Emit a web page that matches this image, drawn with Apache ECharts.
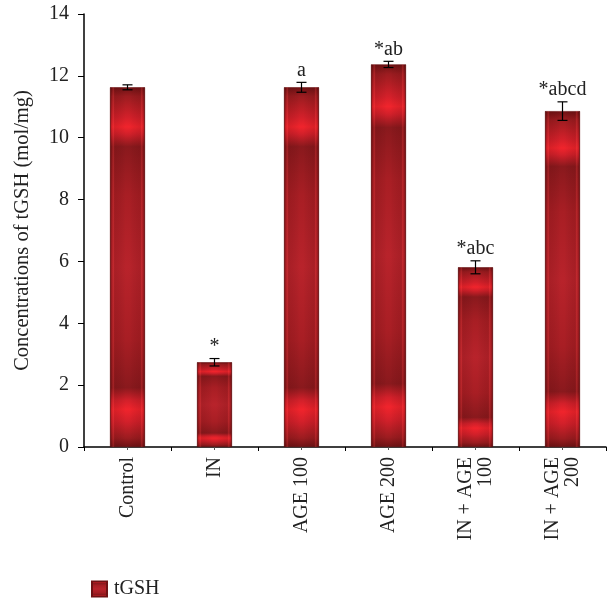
<!DOCTYPE html>
<html>
<head>
<meta charset="utf-8">
<script src="https://cdn.jsdelivr.net/npm/echarts@6/dist/echarts.min.js"></script>
<style>html,body{margin:0;padding:0;background:#fff;}#c{width:608px;height:598px;}</style>
</head>
<body>
<div id="c"></div>
<script>
const categories = ['Control', 'IN', 'AGE 100', 'AGE 200', 'IN + AGE\n100', 'IN + AGE\n200'];
const values = [11.63, 2.74, 11.63, 12.37, 5.81, 10.86];
const errors = [0.08, 0.12, 0.16, 0.1, 0.21, 0.3];
const marks = ['', '*', 'a', '*ab', '*abc', '*abcd'];
const yTicks = { min: 0, max: 14, interval: 2 };
const seriesName = 'tGSH';

const FONT = '"Liberation Serif", "DejaVu Serif", serif';

const vGrad = new echarts.graphic.LinearGradient(0, 0, 0, 1, [
  { offset: 0, color: '#6e1214' },
  { offset: 0.025, color: '#9c1c20' },
  { offset: 0.085, color: '#d4202a' },
  { offset: 0.11, color: '#f0242c' },
  { offset: 0.13, color: '#d2202a' },
  { offset: 0.165, color: '#8a191d' },
  { offset: 0.3, color: '#a81e24' },
  { offset: 0.5, color: '#b8232b' },
  { offset: 0.7, color: '#a81e24' },
  { offset: 0.835, color: '#8a191d' },
  { offset: 0.87, color: '#d2202a' },
  { offset: 0.895, color: '#f0242c' },
  { offset: 0.93, color: '#d2202a' },
  { offset: 0.975, color: '#9c1c20' },
  { offset: 1, color: '#6e1214' }
]);
const hGrad = new echarts.graphic.LinearGradient(0, 0, 1, 0, [
  { offset: 0, color: 'rgba(70,0,0,0.55)' },
  { offset: 0.05, color: 'rgba(70,0,0,0.15)' },
  { offset: 0.09, color: 'rgba(255,70,70,0.30)' },
  { offset: 0.14, color: 'rgba(60,0,0,0.12)' },
  { offset: 0.45, color: 'rgba(0,0,0,0)' },
  { offset: 0.55, color: 'rgba(0,0,0,0)' },
  { offset: 0.86, color: 'rgba(60,0,0,0.12)' },
  { offset: 0.91, color: 'rgba(255,70,70,0.30)' },
  { offset: 0.95, color: 'rgba(70,0,0,0.15)' },
  { offset: 1, color: 'rgba(70,0,0,0.55)' }
]);

const errData = values.map((v, i) => [i, v - errors[i], v + errors[i], marks[i]]);

const chart = echarts.init(document.getElementById('c'), null, { renderer: 'canvas' });
chart.setOption({
  animation: false,
  backgroundColor: '#fff',
  grid: { left: 84, right: 2, top: 14, bottom: 151, containLabel: false },
  legend: {
    data: [{ name: seriesName, icon: 'rect' }],
    left: 86, top: 574,
    itemWidth: 15, itemHeight: 15, itemGap: 10,
    textStyle: { fontFamily: FONT, fontSize: 20, color: '#222', padding: [0, 0, 0, 2] }
  },
  xAxis: [{
    type: 'category',
    data: categories,
    axisLine: { lineStyle: { color: '#000', width: 1.5 } },
    axisTick: { show: true, alignWithLabel: false, length: 4, lineStyle: { color: '#000' } },
    axisLabel: { rotate: 90, margin: 10, fontFamily: FONT, fontSize: 20, color: '#222', lineHeight: 20, interval: 0 }
  }, {
    type: 'category',
    data: categories,
    position: 'bottom',
    axisLine: { show: false },
    axisTick: { show: true, alignWithLabel: true, length: 3, lineStyle: { color: '#555' } },
    axisLabel: { show: false }
  }],
  yAxis: {
    type: 'value',
    min: yTicks.min, max: yTicks.max, interval: yTicks.interval,
    name: 'Concentrations of tGSH (mol/mg)',
    nameLocation: 'middle', nameGap: 51,
    nameTextStyle: { fontFamily: FONT, fontSize: 20.5, color: '#222' },
    axisLine: { show: true, lineStyle: { color: '#000', width: 1.5 } },
    axisTick: { show: true, length: 6, lineStyle: { color: '#000' } },
    axisLabel: { margin: 15, fontFamily: FONT, fontSize: 20, color: '#222' },
    splitLine: { show: false }
  },
  series: [{
    name: seriesName,
    type: 'bar',
    data: values,
    barWidth: 35,
    itemStyle: { color: vGrad, borderColor: '#6e1214', borderWidth: 0.6 },
    z: 2
  }, {
    name: 'shade',
    type: 'bar',
    data: values,
    barWidth: 35,
    barGap: '-100%',
    itemStyle: { color: hGrad },
    silent: true,
    z: 3
  }, {
    name: 'err',
    type: 'custom',
    data: errData,
    z: 5,
    renderItem: function (params, api) {
      const x = api.value(0);
      const lo = api.coord([x, api.value(1)]);
      const hi = api.coord([x, api.value(2)]);
      const cap = 5;
      const st = { stroke: '#000', lineWidth: 1.2 };
      const ch = [
        { type: 'line', shape: { x1: hi[0], y1: hi[1], x2: lo[0], y2: lo[1] }, style: st },
        { type: 'line', shape: { x1: hi[0] - cap, y1: hi[1], x2: hi[0] + cap, y2: hi[1] }, style: st },
        { type: 'line', shape: { x1: lo[0] - cap, y1: lo[1], x2: lo[0] + cap, y2: lo[1] }, style: st }
      ];
      const t = marks[params.dataIndex];
      if (t) {
        ch.push({ type: 'text', style: { text: t, x: hi[0], y: hi[1] - 2, align: 'center', verticalAlign: 'bottom', fontFamily: FONT, fontSize: 20, fill: '#222' } });
      }
      return { type: 'group', children: ch };
    }
  }]
});
</script>
</body>
</html>
